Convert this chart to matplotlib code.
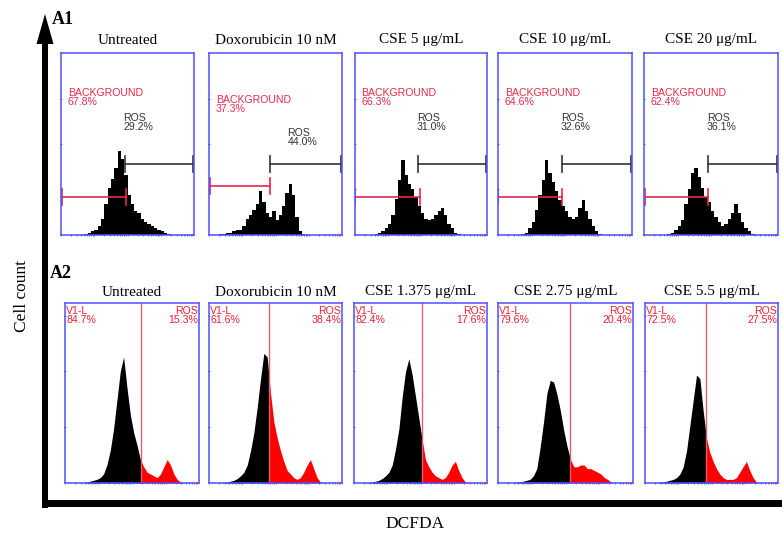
import numpy as np
import matplotlib
matplotlib.use("Agg")
import matplotlib.pyplot as plt
from matplotlib.patches import Rectangle, Polygon

# ---------------- data ----------------
a1_titles = ["Untreated", "Doxorubicin 10 nM", "CSE 5 μg/mL", "CSE 10 μg/mL", "CSE 20 μg/mL"]
a2_titles = ["Untreated", "Doxorubicin 10 nM", "CSE 1.375 μg/mL", "CSE 2.75 μg/mL", "CSE 5.5 μg/mL"]

a1_background_pct = ["67.8%", "37.3%", "66.3%", "64.6%", "62.4%"]
a1_ros_pct = ["29.2%", "44.0%", "31.0%", "32.6%", "36.1%"]
a2_v1l_pct = ["84.7%", "61.6%", "82.4%", "79.6%", "72.5%"]
a2_ros_pct = ["15.3%", "38.4%", "17.6%", "20.4%", "27.5%"]

# histogram heights (% of panel height) in 40 equal DCFDA channels
a1_untreated = [0, 0, 0, 0, 0, 0, 0, 0.5, 1, 2, 3, 5, 9, 17, 26, 31, 37, 46, 42, 33,
                22, 17, 13, 12, 9, 7, 6, 5, 4, 3, 2, 1, 0.5, 0, 0, 0, 0, 0, 0, 0]
a1_doxorubicin = [0, 0, 0, 0.5, 0.5, 1, 1, 2, 3, 3, 5, 9, 11, 14, 17, 24, 18, 12, 10, 13,
                  8, 11, 16, 23, 28, 22, 10, 2, 0.5, 0, 0, 0, 0, 0, 0, 0, 0, 0, 0, 0]
a1_cse5 = [0, 0, 0, 0, 0, 0, 0.5, 1, 2, 4, 6, 11, 20, 30, 41, 33, 28, 25, 21, 16,
           12, 9, 8, 9, 11, 13, 15, 11, 6, 4, 1, 0.5, 0, 0, 0, 0, 0, 0, 0, 0]
a1_cse10 = [0, 0, 0, 0, 0, 0, 0, 0.5, 1, 4, 7, 14, 22, 30, 41, 34, 29, 24, 19, 16,
            13, 10, 9, 10, 15, 19, 13, 9, 5, 2, 0.5, 0, 0, 0, 0, 0, 0, 0, 0, 0]
a1_cse20 = [0, 0, 0, 0, 0, 0, 0, 0.5, 1, 3, 5, 8, 17, 25, 34, 37, 32, 26, 21, 18,
            13, 10, 7, 5, 6, 9, 12, 17, 12, 7, 4, 2, 0.5, 0, 0, 0, 0, 0, 0, 0]

a2_untreated = [0, 0, 0, 0, 0, 0, 0.5, 1, 1.5, 2, 3, 5, 10, 18, 30, 46, 62, 70, 53, 38,
                28, 21, 13, 9, 6, 5, 4, 3, 5, 9, 13, 10, 5, 2, 0.5, 0, 0, 0, 0, 0]
a2_doxorubicin = [0, 0, 0, 0, 0.3, 0.5, 1, 1.5, 2.5, 4, 6, 10, 18, 28, 42, 58, 72, 70, 50, 34,
                  25, 18, 12, 7, 5, 3, 2, 3, 6, 10, 13, 8, 3, 0.5, 0, 0, 0, 0, 0, 0]
a2_cse1375 = [0, 0, 0, 0, 0.3, 0.5, 1, 1.5, 2.5, 4, 6, 10, 19, 30, 48, 62, 69, 60, 48, 36,
              24, 13, 9, 6, 4, 3, 2, 3, 6, 10, 12, 7, 3, 0.5, 0, 0, 0, 0, 0, 0]
a2_cse275 = [0, 0, 0, 0, 0, 0.3, 0.5, 1, 1.5, 2, 4, 8, 20, 34, 50, 57, 56, 49, 40, 29,
             20, 13, 9, 9, 10, 10, 8, 8, 7, 6, 5, 3, 2, 0.5, 0, 0, 0, 0, 0, 0]
a2_cse55 = [0, 0, 0, 0, 0.3, 0.5, 1, 1.5, 2, 3, 5, 9, 18, 32, 46, 60, 58, 40, 25, 17,
            12, 8, 5, 3, 2, 2, 2, 3, 6, 9, 12, 7, 3, 0.5, 0, 0, 0, 0, 0, 0]

a1_hists = [a1_untreated, a1_doxorubicin, a1_cse5, a1_cse10, a1_cse20]
a2_hists = [a2_untreated, a2_doxorubicin, a2_cse1375, a2_cse275, a2_cse55]

# gates (fraction of channel range) and marker heights (% of panel height)
a1_bg_gate_start = [0.01, 0.01, 0.0, 0.0, 0.01]
a1_bg_gate_end = [0.49, 0.46, 0.49, 0.48, 0.48]
a1_bg_gate_level = [21, 27, 21, 21, 21]
a1_ros_gate_start = [0.48, 0.46, 0.48, 0.48, 0.48]
a1_ros_gate_level = [39, 39, 39, 39, 39]
a2_ros_gate = [0.57, 0.45, 0.51, 0.53, 0.46]

# ---------------- layout ----------------
W, H = 782, 540
fig = plt.figure(figsize=(W / 100, H / 100), dpi=100)
fig.patch.set_facecolor("white")

BLUE = "#4f4fff"
SERIF = "Liberation Serif"
SANS = "Liberation Sans"

a1_boxes = [(61, 53, 194, 235), (209, 53, 342, 235), (355, 53, 487, 235),
            (498, 53, 632, 235), (644, 53, 778, 235)]
a2_boxes = [(65, 303, 199, 483), (209, 303, 342, 483), (354, 303, 487, 483),
            (498, 303, 633, 483), (645, 303, 778, 483)]

# overlay for big axes, labels
ov = fig.add_axes([0, 0, 1, 1])
ov.set_xlim(0, W)
ov.set_ylim(H, 0)
ov.axis("off")
ov.add_patch(Rectangle((42, 40), 6, 468, color="black", lw=0))
ov.add_patch(Polygon([(36.5, 44), (53.5, 44), (45, 14)], closed=True, color="black", lw=0))
ov.add_patch(Rectangle((42, 500), W - 42, 7, color="black", lw=0))
ov.text(52, 20, "A1", fontsize=13, fontweight="bold", family=SERIF, ha="left", va="center")
ov.text(50, 273, "A2", fontsize=13, fontweight="bold", family=SERIF, ha="left", va="center")
ov.text(22, 296, "Cell count", fontsize=12.5, family=SERIF, rotation=90, ha="center", va="center")
ov.text(415, 524, "DCFDA", fontsize=12.5, family=SERIF, ha="center", va="center")

centers = (np.arange(40) + 0.5) / 40
edges = np.arange(41) / 40
minor_ticks = []
for d in range(4):
    for k in range(1, 10):
        minor_ticks.append((d + np.log10(k)) / 4)


def make_ax(box):
    x0, y0, x1, y1 = box
    ax = fig.add_axes([x0 / W, 1 - y1 / H, (x1 - x0) / W, (y1 - y0) / H])
    ax.set_xlim(0, 1)
    ax.set_ylim(0, 100)
    for s in ax.spines.values():
        s.set_color(BLUE)
        s.set_linewidth(1.1)
    ax.set_xticks(minor_ticks)
    ax.set_xticklabels([])
    ax.set_yticklabels([])
    ax.tick_params(axis="both", colors=BLUE, length=2, width=0.6, direction="inout")
    return ax


for i, box in enumerate(a1_boxes):
    ax = make_ax(box)
    ax.set_yticks([25, 50, 75])
    ax.stairs(a1_hists[i], edges, fill=True, color="black", lw=0)
    red = "#e8284a"
    dark = "#333333"
    cap = 4.5
    ly = a1_bg_gate_level[i]
    ax.plot([a1_bg_gate_start[i], a1_bg_gate_end[i]], [ly, ly], color=red, lw=1.2)
    for xc in (a1_bg_gate_start[i], a1_bg_gate_end[i]):
        ax.plot([xc, xc], [ly - cap, ly + cap], color=red, lw=1.2)
    ly = a1_ros_gate_level[i]
    ax.plot([a1_ros_gate_start[i], 0.995], [ly, ly], color=dark, lw=1.2)
    for xc in (a1_ros_gate_start[i], 0.995):
        ax.plot([xc, xc], [ly - cap, ly + cap], color=dark, lw=1.2)
    bg_top = 77 if i == 1 else 81
    ros_x = 0.59 if i == 1 else 0.47
    ros_top = 59 if i == 1 else 67
    ax.text(0.05, bg_top, "BACKGROUND\n" + a1_background_pct[i], color=red, fontsize=7.6,
            family=SANS, ha="left", va="top", linespacing=0.88)
    ax.text(ros_x, ros_top, "ROS\n" + a1_ros_pct[i], color=dark, fontsize=7.6,
            family=SANS, ha="left", va="top", linespacing=0.88)
    ov.text((box[0] + box[2]) / 2, 40, a1_titles[i], fontsize=11, family=SERIF,
            ha="center", va="center")

for i, box in enumerate(a2_boxes):
    ax = make_ax(box)
    ax.set_yticks([31, 62, 93])
    x = np.concatenate([[0], centers, [1]])
    y = np.concatenate([[0], a2_hists[i], [0]])
    g = a2_ros_gate[i]
    red_part = ax.fill_between(x, 0, y, color="#ff0000", lw=0)
    red_part.set_clip_path(Rectangle((g, 0), 1 - g, 100, transform=ax.transData))
    blk = ax.fill_between(x, 0, y, color="black", lw=0)
    blk.set_clip_path(Rectangle((0, 0), g, 100, transform=ax.transData))
    ax.axvline(g, color="#e06070", lw=1)
    ax.text(0.01, 98.5, "V1-L\n" + a2_v1l_pct[i], color="#ee2030", fontsize=7.6,
            family=SANS, ha="left", va="top", linespacing=0.88)
    ax.text(0.995, 98.5, "ROS\n" + a2_ros_pct[i], color="#ee2030", fontsize=7.6,
            family=SANS, ha="right", va="top", linespacing=0.88)
    ov.text((box[0] + box[2]) / 2, 292, a2_titles[i], fontsize=11, family=SERIF,
            ha="center", va="center")

fig.savefig("out.png", dpi=100, facecolor="white")
